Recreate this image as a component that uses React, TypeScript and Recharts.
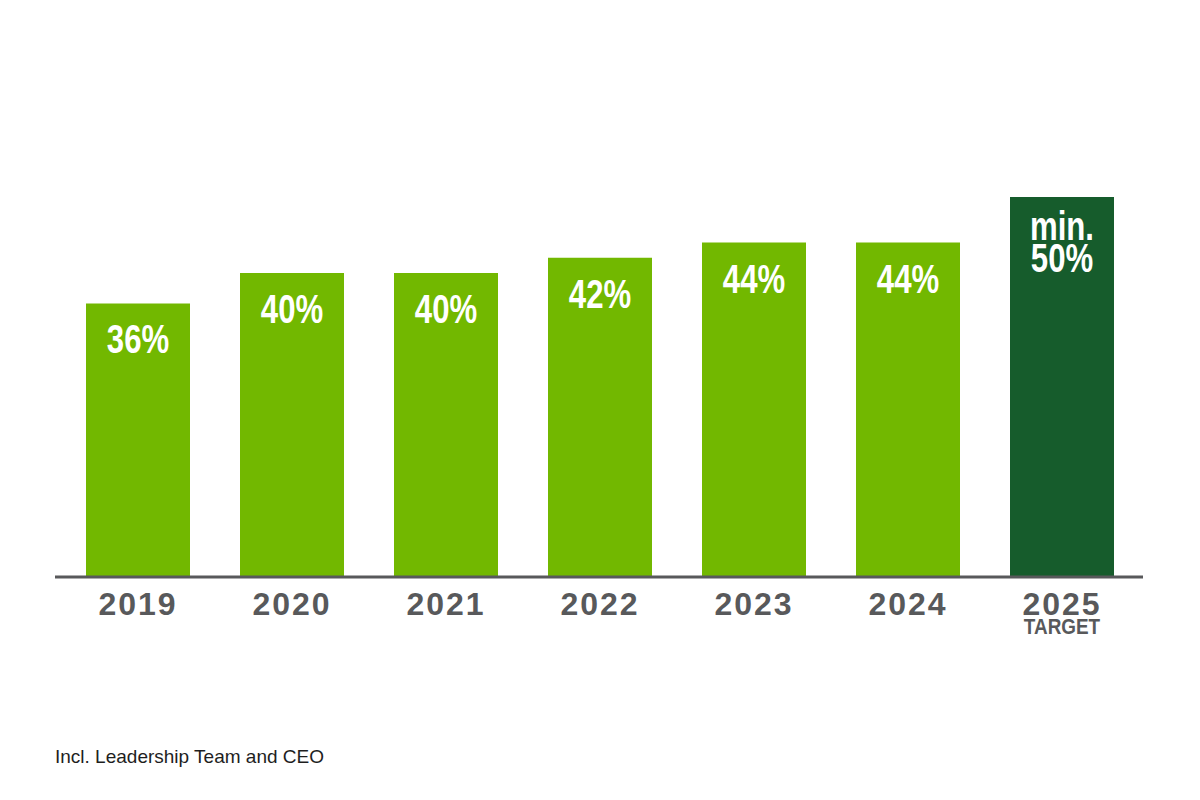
import React from 'react';
import { BarChart, Bar, XAxis, YAxis, LabelList, Cell } from 'recharts';

const years = ['2019', '2020', '2021', '2022', '2023', '2024', '2025'];
const shares = [36, 40, 40, 42, 44, 44, 50];
const prefixes = ['', '', '', '', '', '', 'min.'];
const subLabels = ['', '', '', '', '', '', 'TARGET'];
const isTarget = [false, false, false, false, false, false, true];

const LIGHT = '#72b800';
const DARK = '#165c2c';
const GREY = '#58595b';
const SANS = '"Liberation Sans", Arial, sans-serif';

const data = years.map((y, i) => ({
  year: y,
  share: shares[i],
  target: isTarget[i],
}));

// condensed look: squeeze a regular bold face horizontally
const YearTick = ({ x, y, payload, index }: any) => {
  const sub = subLabels[index];
  return (
    <g>
      <text x={x} y={y + 38} textAnchor="middle" fill={GREY} fontFamily={SANS} fontWeight={700} fontSize={32} letterSpacing={2}>
        {payload.value}
      </text>
      {sub && (
        <g transform={`translate(${x},${y + 57}) scale(0.86,1)`}>
          <text x={0} y={0} textAnchor="middle" fill={GREY} fontFamily={SANS} fontWeight={700} fontSize={22}>
            {sub}
          </text>
        </g>
      )}
    </g>
  );
};

const ValueLabel = ({ x, y, width, value, index }: any) => {
  const cx = x + width / 2;
  const pre = prefixes[index];
  return (
    <g transform={`translate(${cx},${y}) scale(0.76,1)`}>
      {pre ? (
        <text x={0} y={43} textAnchor="middle" fill="#fff" fontFamily={SANS} fontWeight={700} fontSize={41}>
          <tspan x={0} y={43}>{pre}</tspan>
          <tspan x={0} y={75}>{`${value}%`}</tspan>
        </text>
      ) : (
        <text x={0} y={50} textAnchor="middle" fill="#fff" fontFamily={SANS} fontWeight={700} fontSize={41}>
          {`${value}%`}
        </text>
      )}
    </g>
  );
};

export default function App() {
  return (
    <div style={{ position: 'absolute', left: 0, top: 0, width: 1200, height: 800, background: '#fff' }}>
      <BarChart
        width={1200}
        height={800}
        data={data}
        margin={{ top: 121, right: 57, bottom: 0, left: 55 }}
        barCategoryGap={25}
      >
        <XAxis
          dataKey="year"
          height={223}
          axisLine={{ stroke: GREY, strokeWidth: 3 }}
          tickLine={false}
          tickSize={0}
          tickMargin={0}
          padding={{ left: 6, right: 4 }}
          tick={<YearTick />}
          interval={0}
        />
        <YAxis hide domain={[0, 60]} />
        <Bar dataKey="share" isAnimationActive={false}>
          {data.map((d, i) => (
            <Cell key={i} fill={d.target ? DARK : LIGHT} />
          ))}
          <LabelList dataKey="share" content={<ValueLabel />} />
        </Bar>
      </BarChart>
      <div
        style={{
          position: 'absolute',
          left: 55,
          top: 746,
          fontFamily: SANS,
          fontSize: 19,
          color: '#1e1e1e',
          lineHeight: '22px',
        }}
      >
        Incl. Leadership Team and CEO
      </div>
    </div>
  );
}
